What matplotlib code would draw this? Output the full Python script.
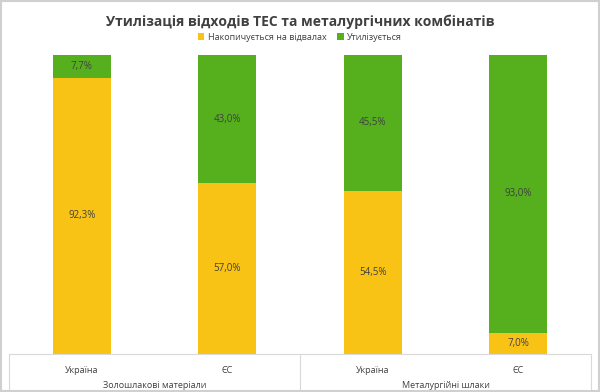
import matplotlib.pyplot as plt
from matplotlib.patches import Rectangle

plt.rcParams['font.family'] = ['Open Sans', 'DejaVu Sans']

countries = ['Україна', 'ЄС', 'Україна', 'ЄС']
groups = ['Золошлакові матеріали', 'Металургійні шлаки']
stored = [92.3, 57.0, 54.5, 7.0]
utilized = [7.7, 43.0, 45.5, 93.0]

yellow = '#F8C315'
green = '#56B01E'
text_c = '#404040'
grid_c = '#D9D9D9'

fig = plt.figure(figsize=(6, 3.92), dpi=100)
ax = fig.add_axes([0.015, 0.097, 0.97, 0.763])

x = range(len(countries))
b1 = ax.bar(x, stored, width=0.4, color=yellow, label='Накопичується на відвалах')
b2 = ax.bar(x, utilized, width=0.4, bottom=stored, color=green, label='Утилізується')

for i in x:
    ax.text(i, stored[i] / 2, f'{stored[i]:.1f}%'.replace('.', ','),
            ha='center', va='center', fontsize=7, color=text_c)
    ax.text(i, stored[i] + utilized[i] / 2, f'{utilized[i]:.1f}%'.replace('.', ','),
            ha='center', va='center', fontsize=7, color=text_c)

ax.set_xlim(-0.5, 3.5)
ax.set_ylim(0, 100)
ax.set_yticks([])
ax.set_xticks([])
for s in ['top', 'left', 'right']:
    ax.spines[s].set_visible(False)
ax.spines['bottom'].set_color(grid_c)

# category axis labels
for i, c in enumerate(countries):
    ax.text(i, -5.5, c, ha='center', va='center', fontsize=6.5, color=text_c)
for j, g in enumerate(groups):
    ax.text(0.5 + 2 * j, -10.4, g, ha='center', va='center', fontsize=6.5, color=text_c)
for xv in [-0.5, 1.5, 3.5]:
    ax.plot([xv, xv], [0, -12.3], color=grid_c, lw=0.8, clip_on=False)

fig.text(0.5, 0.944, 'Утилізація відходів ТЕС та металургічних комбінатів',
         ha='center', va='center', fontsize=10, fontweight='bold', color=text_c)
fig.legend(handles=[b1, b2], loc='center', bbox_to_anchor=(0.5, 0.905), ncol=2,
           frameon=False, fontsize=6.5, handlelength=0.7, handleheight=0.7,
           handletextpad=0.4, columnspacing=1.2, labelcolor=text_c)

fig.patches.append(Rectangle((0.002, 0.003), 0.996, 0.994, transform=fig.transFigure,
                             fill=False, edgecolor='#D0D0D0', lw=1.5))

fig.savefig('out.png', dpi=100)
